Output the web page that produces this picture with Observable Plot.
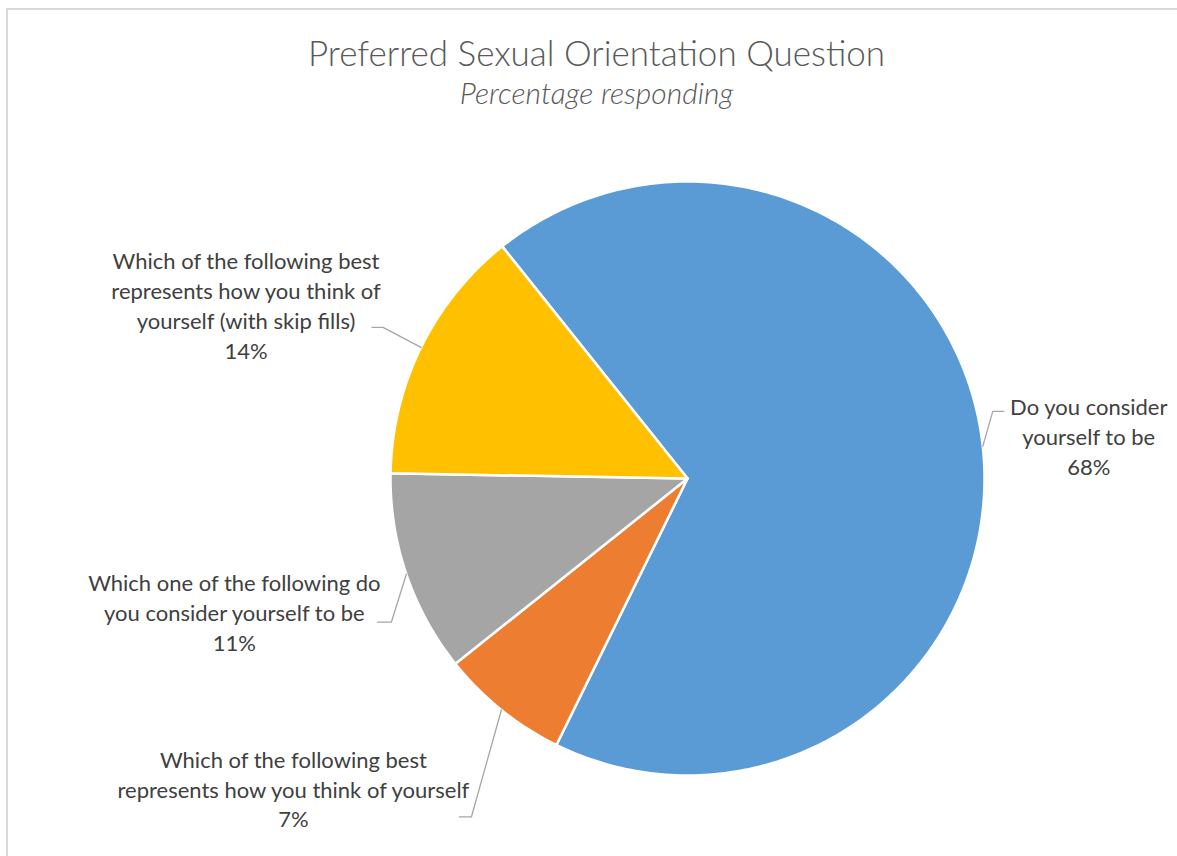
<!DOCTYPE html>
<html>
<head>
<meta charset="utf-8">
<script src="https://cdn.jsdelivr.net/npm/d3@7"></script>
<script src="https://cdn.jsdelivr.net/npm/@observablehq/plot@0.6"></script>
<style>
  html, body { margin: 0; padding: 0; background: #fff; }
  body { width: 1177px; height: 856px; position: relative; overflow: hidden; font-family: Lato, "Open Sans", sans-serif; }
  .frame { position: absolute; left: 6px; top: 8px; width: 1300px; height: 900px; border-top: 2px solid #d9d9d9; border-left: 2px solid #d9d9d9; }
  .title { position: absolute; left: 0; width: 1193px; text-align: center; top: 35px; font-size: 35px; line-height: 35px; font-weight: 300; color: #595959; white-space: nowrap; }
  .subtitle { position: absolute; left: 0; width: 1193px; text-align: center; top: 77px; font-size: 30px; line-height: 30px; font-style: italic; font-weight: 300; color: #595959; white-space: nowrap; }
  #chart { position: absolute; left: 0; top: 120px; }
</style>
</head>
<body>
<div class="frame"></div>
<div class="title">Preferred Sexual Orientation Question</div>
<div class="subtitle">Percentage responding</div>
<div id="chart"></div>
<script>
// ---- data ----
const categories = [
  "Do you consider yourself to be",
  "Which of the following best represents how you think of yourself",
  "Which one of the following do you consider yourself to be",
  "Which of the following best represents how you think of yourself (with skip fills)"
];
const values = [68, 7, 11, 14];
const labelTexts = [
  "Do you consider\nyourself to be",
  "Which of the following best\nrepresents how you think of yourself",
  "Which one of the following do\nyou consider yourself to be",
  "Which of the following best\nrepresents how you think of\nyourself (with skip fills)"
];
const colors = ["#5B9BD5", "#ED7D31", "#A5A5A5", "#FFC000"];

// ---- layout ----
const W = 1177, H = 736;
const cx = 687, cy = 358, R = 297;
const startDeg = -38.6;
// label placement offsets (px) relative to slice edge at mid-angle
const labelOffset = [[106, -11], [-208, 78], [-172, 37], [-175, -43]];
const leaderElbow = [[10, -35], [-30, 107], [-15, 48], [-38, -20]];
const leaderEnd = [[21, -35], [-42, 107], [-29, 48], [-49, -20]];

const rows = categories.map((c, i) => ({cat: c, value: values[i], label: labelTexts[i] + "\n" + values[i] + "%", i}));
const start = startDeg * Math.PI / 180;
const arcs = d3.pie().value(d => d.value).sort(null).startAngle(start).endAngle(start + 2 * Math.PI)(rows);

const slicePts = [];
const leaderPts = [];
const labels = [];
for (const a of arcs) {
  const cat = a.data.cat;
  slicePts.push({cat, x: 0, y: 0});
  const n = Math.max(8, Math.ceil((a.endAngle - a.startAngle) * 60));
  for (let k = 0; k <= n; k++) {
    const t = a.startAngle + (a.endAngle - a.startAngle) * k / n;
    slicePts.push({cat, x: Math.sin(t), y: Math.cos(t)});
  }
  const m = (a.startAngle + a.endAngle) / 2;
  const ex = Math.sin(m), ey = Math.cos(m);
  const i = a.data.i;
  leaderPts.push({cat, x: ex, y: ey});
  leaderPts.push({cat, x: ex + leaderElbow[i][0] / R, y: ey - leaderElbow[i][1] / R});
  leaderPts.push({cat, x: ex + leaderEnd[i][0] / R, y: ey - leaderEnd[i][1] / R});
  labels.push({cat, label: a.data.label, x: ex + labelOffset[i][0] / R, y: ey - labelOffset[i][1] / R});
}

const chart = Plot.plot({
  width: W, height: H,
  margin: 0,
  x: {domain: [-cx / R, (W - cx) / R], range: [0, W], axis: null},
  y: {domain: [-(H - cy) / R, cy / R], range: [H, 0], axis: null},
  color: {domain: categories, range: colors},
  style: {fontFamily: "Lato, 'Open Sans', sans-serif", background: "transparent"},
  marks: [
    Plot.line(slicePts, {x: "x", y: "y", z: "cat", fill: "cat", stroke: "white", strokeWidth: 2.5, curve: "linear-closed"}),
    Plot.line(leaderPts, {x: "x", y: "y", z: "cat", stroke: "#a6a6a6", strokeWidth: 1.3}),
    Plot.text(labels, {x: "x", y: "y", text: "label", fill: "#404040", fontSize: 22, lineHeight: 1.36, textAnchor: "middle", lineAnchor: "middle"})
  ]
});
document.getElementById("chart").appendChild(chart);
</script>
</body>
</html>
